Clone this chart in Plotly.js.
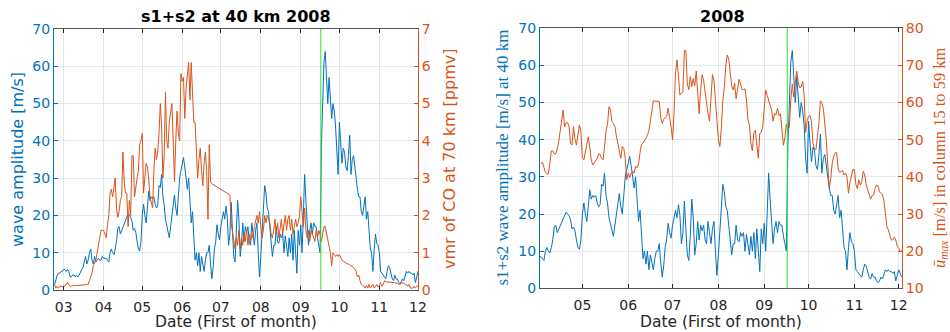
<!DOCTYPE html>
<html>
<head>
<meta charset="utf-8">
<script src="https://cdn.plot.ly/plotly-3.0.1.min.js"></script>
<style>html,body{margin:0;padding:0;background:#fff}#chart{width:950px;height:332px}</style>
</head>
<body>
<div id="chart"></div>
<script>
// Daily series start dates
const waveStart = '2008-02-23';
const coStart = '2008-02-23';
const uMaxStart = '2008-04-03';
const markerDate = '2008-09-16 14:00';

// s1+s2 wave amplitude at 40 km [m/s], daily from 2008-02-23
const waveAmp = [
  1.5, 3, 4, 4.5, 4.5, 5, 5, 5.5, 5.5, 5, 5.5, 5, 3.5, 3.5, 4, 4, 3.5, 4, 3.5, 4,
  5, 5.5, 6, 7.5, 9, 7, 8, 10, 11, 8, 7, 9, 7.5, 8, 8.5, 8, 8, 9, 8.5, 8.5,
  8.5, 8, 7.5, 10, 11, 10, 9.5, 11, 13, 16.5,
  17, 15, 16, 17, 18, 19, 20, 20.5, 20, 19.5,
  18.5, 16, 16.5, 15.5, 13, 11, 10.5, 13, 20, 23,
  20, 18, 22, 26.5, 24, 25, 24.5, 25, 23, 22,
  22.5, 28, 27.5, 31, 25, 23, 19, 17, 15, 14,
  17, 20, 23, 25.5, 22, 20, 25, 30, 32, 34,
  35.5, 33, 29, 27, 30, 25, 18, 21, 13, 8,
  10, 6.5, 10, 5, 9, 7, 5, 8, 10, 10,
  12, 7, 3, 6, 11, 13, 17.5, 15, 13.5, 17,
  19, 21, 19, 22.5, 19.5, 12, 15, 23.5, 16, 9,
  7.5, 14, 24, 19, 9, 12, 18, 13, 17, 15.5,
  17, 13, 12, 18, 15, 12, 16, 18, 10, 3.5,
  9, 16, 22, 28, 26, 22, 21, 16, 13, 9,
  12, 12, 17, 13, 12.5, 15, 14, 15, 10, 14.5,
  12, 9, 14, 10, 15, 8, 16, 9, 4.5, 16,
  12, 17.5, 10, 20, 31, 24, 17, 12, 16, 18,
  15, 18, 17, 17, 14, 12, 10, 38, 52, 61,
  64, 57, 50, 57, 52, 46, 50, 48, 44, 35,
  31, 45, 39, 34, 38, 37, 33, 32, 36, 41.5,
  31, 35, 36, 32, 30, 27, 25, 25, 21, 20,
  22, 25, 19, 21, 16, 11, 10, 5, 11, 15,
  12.5, 12, 10, 5, 4.5, 4, 3.5, 3, 5, 6.5,
  6, 4, 3, 2.5, 4, 3, 3, 2, 1.5, 2,
  3, 2.5, 3.5, 5, 4.5, 5, 4.5, 4.5, 4, 4.5,
  2, 3.5, 5, 4, 3
];

// vmr of CO at 70 km [ppmv], daily from 2008-02-23 (null = missing days)
const coVmr = [
  0.15, 0.05, 0.1, 0.05, 0.1, 0.1, 0.1, 0.1, 0.1, 0.15,
  0.2, 0.15, 0.1, 0.1, 0.12, 0.12, 0.12, 0.12, 0.12, 0.13,
  0.13, 0.13, 0.14, 0.14, 0.14, 0.15, 0.15, 0.25, 0.35, 0.45,
  0.65, 0.75, 0.8, 1.0, 1.2, 1.45, 1.6, 1.6, 1.6, 1.5,
  1.4, 1.75, 2.0, 2.6, 2.7, 2.5, 2.8, 3.0, 2.2, 1.95,
  2.1, 2.4, 2.5, 3.7, 2.9, 2.6, 2.6, 1.7, 2.4, 2.0,
  3.6, 3.6, 2.5, 2.8, 3.0, 3.2, 3.9, 4.0, 4.2, 2.6,
  3.0, 3.4, 3.3, 3.0, 2.5, 2.3, 2.2, 3.2, 3.8, 3.5,
  3.7, 4.2, 5.0, 4.4, 3.0, 3.6, 5.3, 4.0, 3.8, 4.5,
  4.7, 5.0, 4.0, 2.9, 4.0, 4.8, 4.2, 4.0, 5.8, 5.6,
  5.7, 4.6, 5.4, 5.7, 6.1, 5.1, 6.1, 5.3, 4.5, 4.5,
  3.8, 3.0, 3.5, 3.8, 3.2, 2.8, 3.4, 3.7, 3.2, 1.9,
  3.9, 2.9, 2.85, null, null, null, null, null, null, null,
  null, null, null, null, null, null, 2.55, 1.8, 1.6, 1.3,
  1.1, 1.4, 1.2, 1.6, 1.1, 1.4, 1.2, 1.5, 1.3, 1.6,
  1.2, 1.5, 1.3, 1.5, 1.4, 1.7, 1.9, 2.0, 1.8, 2.1,
  1.7, 1.4, 1.6, 2.0, 1.8, 2.0, 1.9, 1.8, 1.5, 1.4,
  1.6, 1.9, 1.5, 1.8, 1.4, 1.7, 1.9, 1.5, 1.8, 2.0,
  1.6, 1.9, 2.0, 1.6, 1.9, 1.5, 1.7, 1.9, 1.7, 1.8,
  2.0, 2.5, 2.1, 1.7, 2.2, 1.6, 1.4, 1.6, 1.3, 1.6,
  1.5, 1.4, 1.3, 1.6, 1.4, 1.6, 1.5, 1.3, 1.5, 1.7,
  1.7, 1.5, 1.3, 1.2, 1.0, 0.65, 1.0, 0.95, 0.9, 0.95,
  0.9, 0.95, 0.85, 0.8, 0.78, 0.75, 0.72, 0.7, 0.7, 0.68,
  0.65, 0.62, 0.6, 0.55, 0.5, 0.35, 0.4, 0.25, 0.15, 0.12,
  0.1, 0.05, 0.12, 0.05, 0.15, 0.05, 0.12, 0.15, 0.05, 0.1,
  0.15, 0.08, 0.12, 0.2, 0.1, 0.15, 0.25, 0.22, 0.22, 0.2,
  0.2, 0.2, 0.2, 0.2, 0.2, 0.18, 0.18, 0.15, 0.2, 0.2,
  0.2, 0.18, 0.15, 0.15, 0.1, 0.15, 0.05, 0.05, 0.05, 0.1,
  0.05, 0.1, 0.12
];

// u_max [m/s] in column 15 to 59 km, daily from 2008-04-03
const uMax = [
  43.5, 44, 42.5, 41.2, 40.8, 40.8, 43.7, 47, 47, 46.2,
  46.2, 47.5, 49.5, 52.5, 56, 58, 53.5, 54.6, 54.6, 53.5,
  49, 48.6, 53.5, 50, 48.6, 52, 54, 52.2, 45, 44.6,
  46.5, 49, 50.8, 48, 44.5, 43.2, 43.7, 44.3, 45, 46.2,
  46, 45, 44.6, 48, 52.5, 54, 58.9, 58, 54.9, 54.4,
  53.5, 51, 49, 47.5, 45, 48.2, 47.7, 45, 39.2, 41,
  39.8, 41, 41.5, 41, 42.8, 42.5, 43.5, 46.5, 48.8, 49.1,
  49.6, 50.4, 51.2, 52.5, 55, 57.5, 60.5, 60.4, 60.3, 60.4,
  60.3, 56, 54.4, 55.5, 56, 56.2, 58.5, 56.5, 53.5, 50,
  57, 68, 71.5, 67, 62, 62.5, 63, 74, 74, 65,
  63.5, 67, 64.3, 66.5, 64.5, 68.5, 63, 57, 63.5, 67.5,
  66, 62.5, 60.7, 57, 55, 60, 67.5, 66, 61, 57,
  50, 48.2, 53, 60.5, 64, 70, 72.8, 71.7, 68.5, 64.5,
  63.4, 65.2, 61, 63.5, 66.3, 65, 63.5, 63.5, 63.7, 60.7,
  55.3, 54, 49, 47, 52, 52.5, 48.2, 45, 51.7, 52,
  53.5, 58, 63.4, 62, 60.3, 59.3, 58, 55, 57.1, 56.7,
  58.5, 56.5, 57, 52, 48.5, 50.5, 54.2, 52.4, 53.5, 60.7,
  65, 61.5, 64.5, 68.5, 65.5, 64, 64.2, 65.7, 62.1, 52,
  55, 56.3, 56.5, 54.8, 49, 47.5, 47.3, 50.8, 54.4, 60.5,
  60, 58.5, 54.5, 50, 43, 37, 39.5, 43.7, 45.5, 46.5,
  46.5, 42.2, 41.2, 41.5, 41.7, 40.5, 41, 40, 35.6, 38.5,
  40.5, 42, 42, 38, 36.8, 39.2, 37.8, 38.7, 41.5, 40.5,
  37.8, 36.3, 35, 34, 35, 35.1, 36.9, 37.8, 37.5, 36,
  35.5, 35.3, 33.5, 30, 26.6, 25.7, 24.5, 23, 23, 23.8,
  23, 21.3, 20.8, 19.9, 20.3
];

// Texts
const panelTitles = ['s1+s2 at 40 km 2008', '2008'];
const xTitle = 'Date (First of month)';
const yTitles = ['wave amplitude [m/s]', 'vmr of CO at 70 km [ppmv]',
                 's1+s2 wave amplitude [m/s] at 40 km',
                 '<i>ū</i><sub><i>max</i></sub> [m/s] in column 15 to 59 km'];

const DAY = 86400000;
const BLUE = '#0072BD', ORANGE = '#D95319', DARK = '#262626', GREEN = '#2fe02f';
const SANS = 'DejaVu Sans', SERIF = 'Liberation Serif';
const W = 950, H = 332;

const traces = [
  {type:'scatter', mode:'lines', x0: waveStart, dx: DAY, y: waveAmp, xaxis:'x', yaxis:'y',
   line:{color:BLUE, width:1}, name:'wave amplitude', showlegend:false},
  {type:'scatter', mode:'lines', x0: coStart, dx: DAY, y: coVmr, xaxis:'x', yaxis:'y2', connectgaps:true,
   line:{color:ORANGE, width:1}, name:'CO vmr', showlegend:false},
  {type:'scatter', mode:'lines', x0: waveStart, dx: DAY, y: waveAmp, xaxis:'x2', yaxis:'y3',
   line:{color:BLUE, width:1}, name:'wave amplitude', showlegend:false},
  {type:'scatter', mode:'lines', x0: uMaxStart, dx: DAY, y: uMax, xaxis:'x2', yaxis:'y4',
   line:{color:ORANGE, width:1}, name:'u max', showlegend:false}
];

function xAxis(domain, anchor, range) {
  return {
    type:'date', domain: domain, anchor: anchor, range: range,
    tick0:'2008-01-01', dtick:'M1', tickformat:'%m',
    ticks:'inside', ticklen:4, tickcolor:DARK, tickwidth:1,
    showline:true, linecolor:'#555', linewidth:1, mirror:'ticks',
    showgrid:true, gridcolor:'#e6e6e6', gridwidth:1, zeroline:false,
    tickfont:{family:SANS, size:14, color:DARK}, ticklabelstandoff:4
  };
}
function yAxis(domain, anchor, range, dtick, color, side, overlay, grid) {
  const a = {
    domain: domain, anchor: anchor, range: range, dtick: dtick, side: side,
    ticks:'inside', ticklen:4, tickcolor:color, tickwidth:1,
    showline:true, linecolor:color, linewidth:1,
    showgrid:grid, gridcolor:'#e1e8ef', gridwidth:1, zeroline:false,
    tickfont:{family:SANS, size:14, color:color}
  };
  if (overlay) { a.overlaying = overlay; delete a.domain; }
  return a;
}
function label(text, px, py, color, family, size, angle, bold, yanchor) {
  return {text: bold ? '<b>' + text + '</b>' : text, xref:'paper', yref:'paper',
          x: px / W, y: (H - py) / H, xanchor:'center', yanchor: yanchor || 'middle', showarrow:false,
          borderpad:0, textangle: angle, font:{family:family, size:size, color:color}};
}

const layout = {
  width:W, height:H,
  margin:{l:0, r:0, t:0, b:0},
  paper_bgcolor:'#fff', plot_bgcolor:'#fff',
  showlegend:false,
  xaxis: xAxis([54/W, 418/W], 'y', ['2008-02-22 12:00','2008-12-01']),
  yaxis: yAxis([42/H, 303/H], 'x', [0,70], 10, BLUE, 'left', null, true),
  yaxis2: yAxis(null, 'x', [0,7], 1, ORANGE, 'right', 'y', false),
  xaxis2: xAxis([540/W, 902/W], 'y3', ['2008-04-02 08:00','2008-12-03 05:00']),
  yaxis3: yAxis([43.7/H, 303.7/H], 'x2', [0,70], 10, BLUE, 'left', null, true),
  yaxis4: yAxis(null, 'x2', [10,80], 10, ORANGE, 'right', 'y3', false),
  annotations: [
    label(panelTitles[0], 236, 17, '#000', SANS, 16, 0, true),
    label(panelTitles[1], 722, 17, '#000', SANS, 16, 0, true),
    label(xTitle, 236, 332, DARK, SANS, 15.5, 0, false, 'bottom'),
    label(xTitle, 721, 332, DARK, SANS, 15.5, 0, false, 'bottom'),
    label(yTitles[0], 17, 160, BLUE, SANS, 16, -90, false),
    label(yTitles[1], 449, 159, ORANGE, SANS, 16, -90, false),
    label(yTitles[2], 502, 157.5, BLUE, SERIF, 17, -90, false),
    label(yTitles[3], 939.5, 157.5, ORANGE, SERIF, 16.5, -90, false)
  ],
  shapes: [
    {type:'line', xref:'x', yref:'y domain', x0:markerDate, x1:markerDate, y0:0, y1:1, line:{color:GREEN, width:1}},
    {type:'line', xref:'x2', yref:'y3 domain', x0:markerDate, x1:markerDate, y0:0, y1:1, line:{color:GREEN, width:1}}
  ]
};

Plotly.newPlot('chart', traces, layout, {staticPlot:true, displayModeBar:false});
</script>
</body>
</html>
